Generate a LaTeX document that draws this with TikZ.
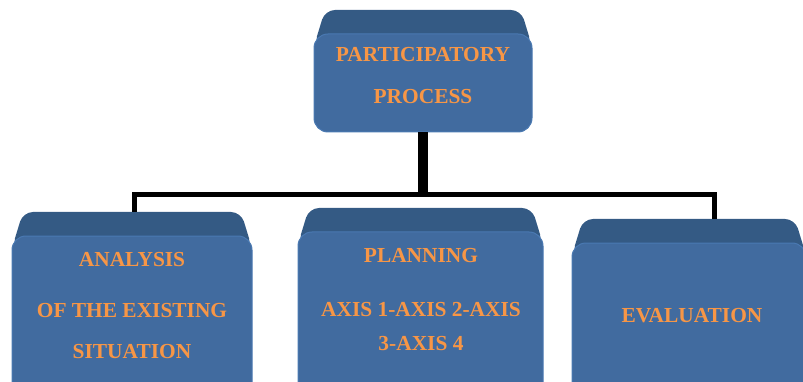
\documentclass[tikz,border=0pt]{standalone}
\usepackage{fontspec}
\setmainfont{Liberation Serif}
\usepackage{tikz}
\definecolor{faceblue}{HTML}{416B9F}
\definecolor{topblue}{HTML}{345A84}
\definecolor{edgeblue}{HTML}{4A79B2}
\definecolor{textorange}{HTML}{F79646}
\newcommand\bevelbox[5]{
  \fill[topblue, rounded corners=10] (#2+11, #4) -- (#3-11, #4) -- (#3, #4+36) -- (#2, #4+36) -- cycle;
  \draw[fill=faceblue, draw=edgeblue, line width=1, rounded corners=14] (#2, #4+24) rectangle (#3, #5);
  \node[inner sep=0, minimum width=#3-#2, minimum height=#5-#4] (#1) at ({(#2+#3)/2}, {(#4+#5)/2}){};
}

\begin{document}
\begin{tikzpicture}[x=1pt, y=-1pt,
	boxtext/.style = {text=textorange, align=center, font=\bfseries\fontsize{21.4}{26}\selectfont},
	stem/.style = {line width=10pt},
	link/.style = {line width=5pt}]
	\clip (0, 0) rectangle (803, 382);
	\bevelbox{process}{314}{532}{10}{132}
	\bevelbox{analysis}{12}{252}{212}{410}
	\bevelbox{planning}{298}{543}{208}{410}
	\bevelbox{evaluation}{572}{806}{219}{410}
	\node[boxtext] (process-text) at (423, 76){PARTICIPATORY\\[16pt]PROCESS};
	\node[boxtext] (analysis-text) at (132, 306){ANALYSIS\\[25pt]OF THE EXISTING\\[15pt]SITUATION};
	\node[boxtext] (planning-text) at (421, 300){PLANNING\\[28pt]AXIS 1-AXIS 2-AXIS\\[8pt]3-AXIS 4};
	\node[boxtext] (evaluation-text) at (692, 316){EVALUATION};
	\coordinate (bus) at (0, 194.5);
	\draw[stem] (process.south) -- ([yshift=-2.5pt]process.south |- bus);
	\draw[link] ([xshift=2.5pt]analysis.north) -- ([xshift=2.5pt]analysis.north |- bus) -- ([xshift=25.5pt]evaluation.north |- bus) -- ([xshift=25.5pt]evaluation.north);
\end{tikzpicture}
\end{document}
